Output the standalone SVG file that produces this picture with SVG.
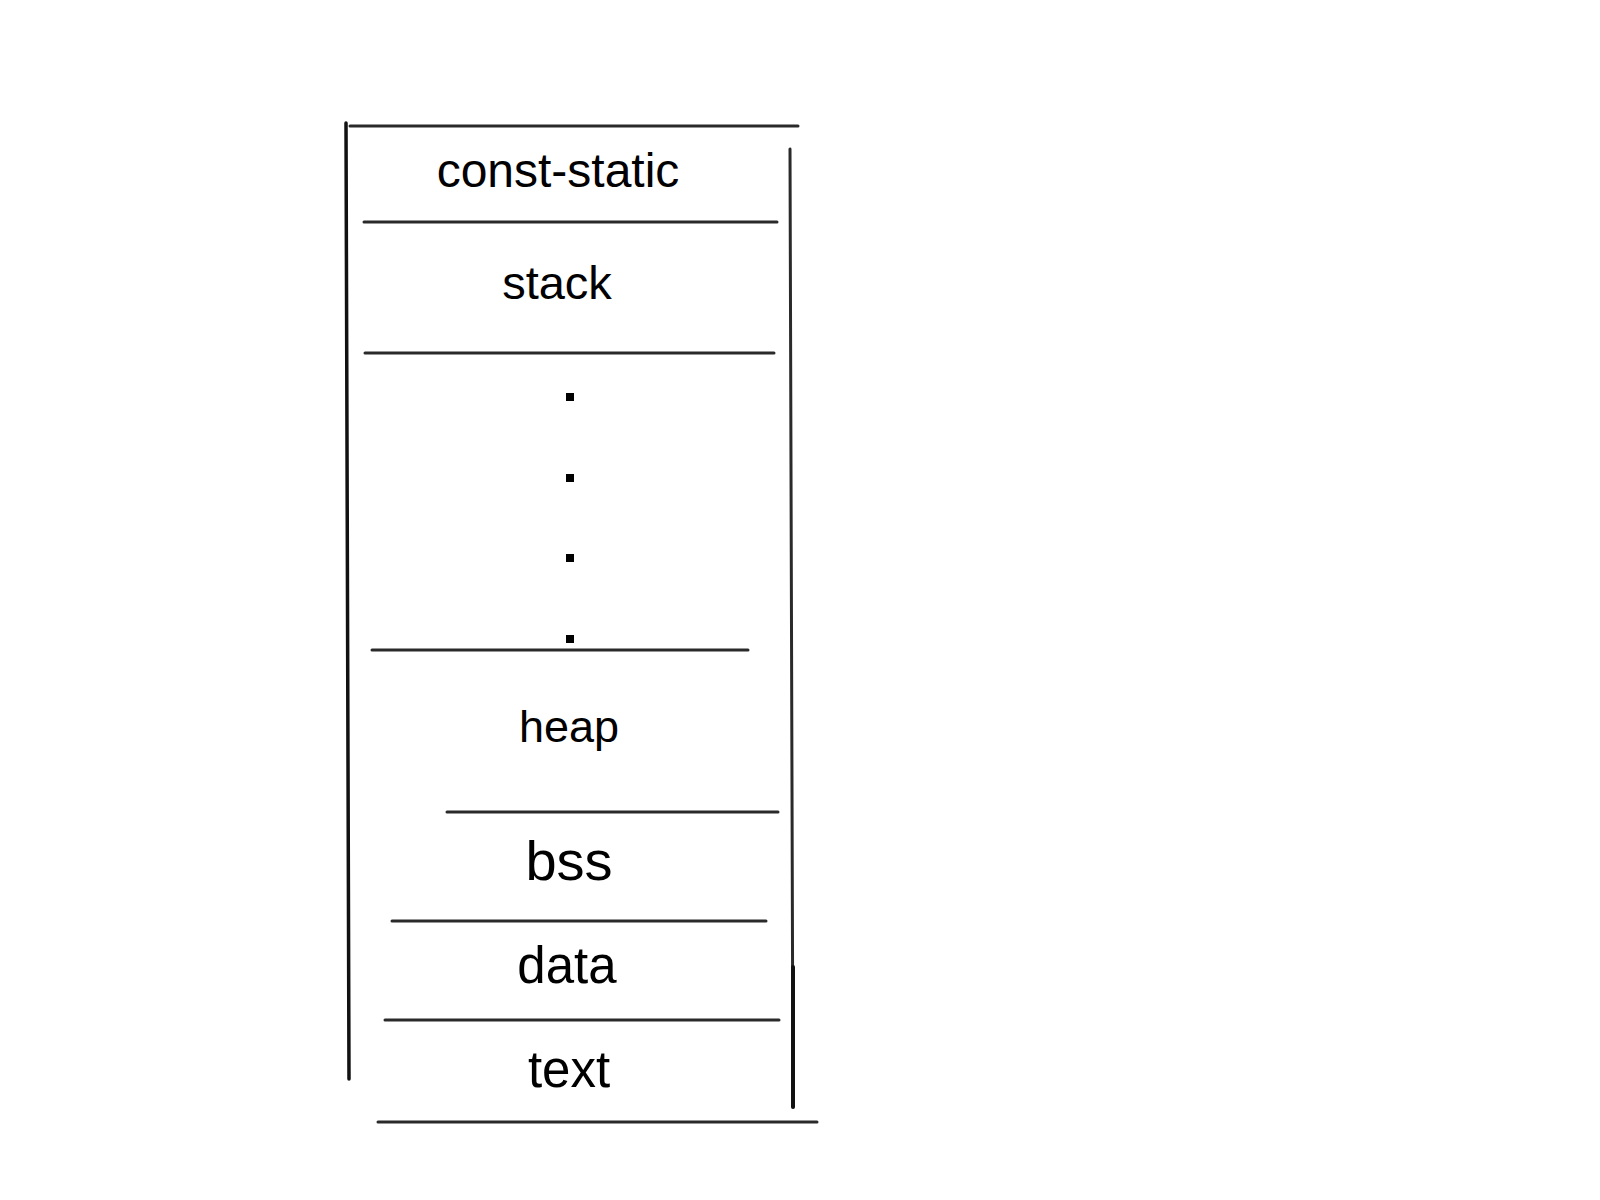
<svg xmlns="http://www.w3.org/2000/svg" width="1600" height="1200" viewBox="0 0 1600 1200">
<style>
.ln{stroke:#2a2a2a;stroke-width:3;stroke-linecap:round;fill:none}
.side{stroke:#111;stroke-width:3.5;stroke-linecap:round;fill:none}
.lbl{font-family:"Liberation Sans",Arial,sans-serif;fill:#000;text-anchor:middle}
.dot{fill:#000}
</style>
<rect width="1600" height="1200" fill="#fff"/>
<g id="frame">
<line class="side" x1="346" y1="123" x2="349" y2="1079"/>
<line class="ln" x1="790" y1="149" x2="793" y2="1107"/>
<line class="side" x1="793" y1="967" x2="793" y2="1107" style="stroke-width:4"/>
<line class="ln" x1="350" y1="126" x2="798" y2="126"/>
<line class="ln" x1="378" y1="1122" x2="817" y2="1122"/>
</g>
<g id="dividers">
<line class="ln" x1="364" y1="222" x2="777" y2="222"/>
<line class="ln" x1="365" y1="353" x2="774" y2="353"/>
<line class="ln" x1="372" y1="650" x2="748" y2="650"/>
<line class="ln" x1="447" y1="812" x2="778" y2="812"/>
<line class="ln" x1="392" y1="921" x2="766" y2="921"/>
<line class="ln" x1="385" y1="1020" x2="779" y2="1020"/>
</g>
<g id="const-static"><text class="lbl" x="558" y="187" font-size="48">const-static</text></g>
<g id="stack"><text class="lbl" x="557" y="299" font-size="47">stack</text></g>
<g id="gap">
<rect class="dot" x="566" y="393" width="8" height="8"/>
<rect class="dot" x="566" y="474" width="8" height="8"/>
<rect class="dot" x="566" y="554" width="8" height="8"/>
<rect class="dot" x="566" y="635" width="8" height="8"/>
</g>
<g id="heap"><text class="lbl" x="569" y="742" font-size="45">heap</text></g>
<g id="bss"><text class="lbl" x="569" y="880" font-size="56">bss</text></g>
<g id="data"><text class="lbl" x="567" y="983" font-size="51">data</text></g>
<g id="text"><text class="lbl" x="569" y="1087" font-size="51">text</text></g>
</svg>
